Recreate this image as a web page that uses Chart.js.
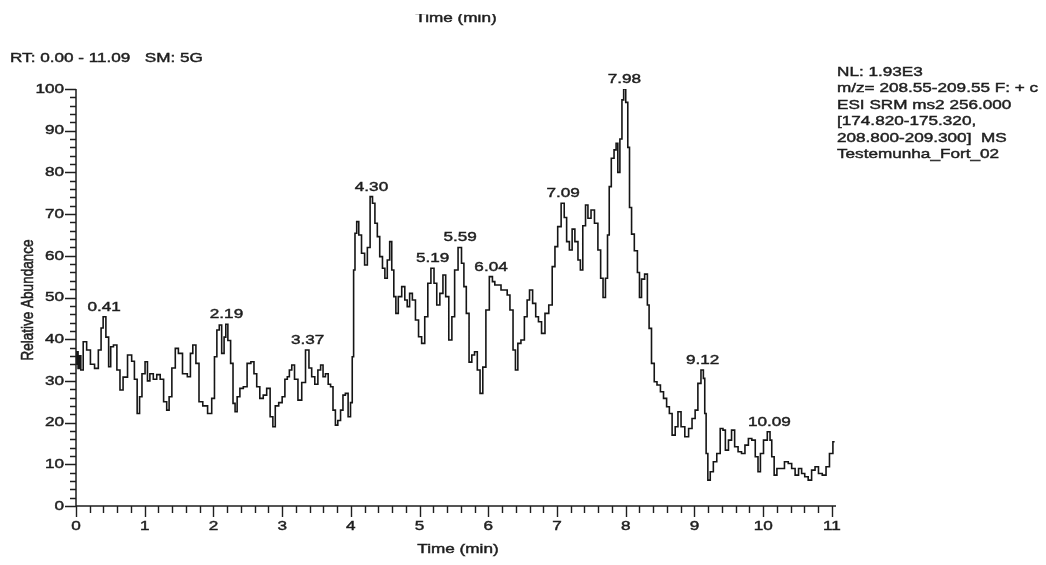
<!DOCTYPE html>
<html>
<head>
<meta charset="utf-8">
<title>Chromatogram</title>
<script src="https://cdn.jsdelivr.net/npm/chart.js@4/dist/chart.umd.min.js"></script>
<style>
  html, body { margin: 0; padding: 0; background: #ffffff; }
  canvas { display: block; }
</style>
</head>
<body>
<canvas id="chrom" width="1046" height="565"></canvas>
<script>
// Retention time (min) of each trace point
const retentionTime = [
  0.00,0.02,0.04,0.06,0.08,0.13,0.18,0.24,0.30,0.35,
  0.38,0.41,0.46,0.49,0.52,0.57,0.62,0.66,0.71,0.79,
  0.83,0.87,0.91,0.94,0.98,1.03,1.05,1.10,1.15,1.20,
  1.25,1.30,1.34,1.37,1.42,1.47,1.51,1.59,1.65,1.68,
  1.72,1.77,1.81,1.88,1.95,2.00,2.03,2.07,2.10,2.14,
  2.17,2.19,2.23,2.27,2.30,2.33,2.36,2.41,2.46,2.52,
  2.57,2.61,2.65,2.70,2.75,2.80,2.85,2.88,2.92,2.98,
  3.02,3.06,3.09,3.12,3.16,3.20,3.26,3.31,3.37,3.41,
  3.45,3.50,3.54,3.58,3.61,3.65,3.69,3.72,3.76,3.79,
  3.83,3.87,3.90,3.94,3.98,4.01,4.03,4.05,4.07,4.10,
  4.13,4.18,4.22,4.26,4.30,4.33,4.37,4.40,4.44,4.48,
  4.51,4.55,4.58,4.61,4.64,4.67,4.71,4.77,4.80,4.84,
  4.87,4.92,4.96,5.01,5.05,5.10,5.14,5.19,5.23,5.27,
  5.32,5.36,5.40,5.45,5.49,5.53,5.59,5.63,5.66,5.70,
  5.74,5.78,5.82,5.86,5.90,5.94,5.99,6.04,6.08,6.11,
  6.16,6.21,6.26,6.29,6.34,6.38,6.41,6.45,6.50,6.55,
  6.58,6.62,6.67,6.71,6.75,6.80,6.85,6.91,6.95,6.99,
  7.03,7.09,7.12,7.16,7.20,7.24,7.28,7.33,7.35,7.40,
  7.43,7.47,7.52,7.57,7.62,7.65,7.69,7.72,7.75,7.77,
  7.81,7.85,7.87,7.90,7.93,7.96,7.98,8.02,8.04,8.07,
  8.10,8.15,8.19,8.21,8.25,8.30,8.33,8.35,8.40,8.43,
  8.48,8.53,8.57,8.62,8.65,8.70,8.74,8.78,8.83,8.89,
  8.94,8.99,9.03,9.07,9.12,9.14,9.16,9.18,9.21,9.25,
  9.30,9.35,9.40,9.43,9.47,9.52,9.56,9.61,9.66,9.71,
  9.76,9.81,9.86,9.91,9.94,9.98,10.03,10.09,10.11,10.14,
  10.18,10.22,10.28,10.34,10.39,10.44,10.49,10.54,10.58,10.63,
  10.68,10.73,10.78,10.83,10.89,10.94,10.99,11.04
];

// Relative abundance (%) at each retention time
const relativeAbundance = [
  34,37,33,36,32.6,39.4,37.4,34,33,37.4,
  42.7,45.4,40.5,33.4,38.2,38.6,32.6,27.8,30.9,36.2,
  34.7,30.4,22.2,26.2,31.7,34.6,30,31.7,30.4,31.5,
  30.4,25,23,26.2,33.1,37.8,36.6,31.7,31,36.6,
  38.6,34.2,25,24,22.2,25.8,35.8,42.2,43.4,36.6,
  40.5,43.6,39.7,34.2,24.6,22.6,26.2,28.2,28.6,34.2,
  34.6,31.7,28.6,25.8,26.6,28.2,21.4,19,24,24.8,
  26.2,30.4,31,32.6,33.8,30.4,25.4,29.6,37.4,33.1,
  31,29.2,32.6,33.8,31,31.7,29.2,28.6,23,19.4,
  20.5,23,26.6,27,21.4,24.8,35.8,56.6,65.4,68.2,
  65,60.6,57.8,62,74.2,72.6,67.8,64.6,59.8,57,
  54.6,59,63.4,56.6,50.2,46.2,50.2,52.6,49.4,47.8,
  51,49.4,44.6,40.6,39,45.4,53.4,57,53.4,48.2,
  51,55.4,50.2,39.8,45.4,56.6,62,58.2,52.6,46.2,
  34.5,36.2,37,32.6,27,33.3,47,55,53.8,53,
  53,51.8,51.8,50.6,47,37.4,32.6,39,39.8,45.4,
  49.4,51.8,48.6,45.4,44.2,41.4,46.2,48.2,57.4,62.2,
  67,72.6,69.2,63.4,61.4,66.4,63.4,59,56.6,67.2,
  72.2,69,71,67.8,61.4,54.6,50,54.6,65,76.6,
  83.4,85.4,87,80,88,97.4,100,96.8,86,71.6,
  65.2,61.2,56,50,54.4,55.6,48.2,42.6,34.2,29.8,
  29,27.4,25.8,23.8,22.2,17,19,22.6,19,16.6,
  18.6,21,23,29.4,32.6,30.6,22.2,12.6,6.2,8.2,
  10.6,12.6,18.6,18.2,13.4,15.8,18.2,14.2,13,12.6,
  14.6,16.2,15.8,11.8,8.2,12.6,15.8,17.8,15.8,11.8,
  7.4,9,9,10.6,10.2,9,7.4,9,7.8,7,
  6.2,8.6,9.4,7.8,7.4,9.4,12.6,15.4
];

// Apex retention times that get a label
const peakTimes = [0.41, 2.19, 3.37, 4.30, 5.19, 5.59, 6.04, 7.09, 7.98, 9.12, 10.09];

// Axis ticks
const xMajorTicks = [0, 1, 2, 3, 4, 5, 6, 7, 8, 9, 10, 11];
const yMajorTicks = [0, 10, 20, 30, 40, 50, 60, 70, 80, 90, 100];
const xMinorStep = 0.2;
const yMinorStep = 2;
const timeRange = [0, 11.06];

// Header and scan information
const headerText = 'RT: 0.00 - 11.09   SM: 5G';
const infoLines = [
  'NL: 1.93E3',
  'm/z= 208.55-209.55 F: + c',
  'ESI SRM ms2 256.000',
  '[174.820-175.320,',
  '208.800-209.300]  MS',
  'Testemunha_Fort_02'
];
const xTitle = 'Time (min)';
const yTitle = 'Relative Abundance';

const FONT = '"Liberation Sans", Arial, Helvetica, sans-serif';
const FONT_SIZE = 13.5;
const STRETCH = 1.27;
const INK = '#1e1e1e';

// Horizontally widened text, slightly thickened with a thin outline
function wideText(ctx, text, x, y, align, baseline, rotate) {
  ctx.save();
  ctx.translate(x, y);
  ctx.scale(STRETCH, 1);
  if (rotate) ctx.rotate(-Math.PI / 2);
  ctx.font = FONT_SIZE + 'px ' + FONT;
  ctx.fillStyle = INK;
  ctx.strokeStyle = INK;
  ctx.lineWidth = 0.45;
  ctx.textAlign = align;
  ctx.textBaseline = baseline;
  ctx.fillText(text, 0, 0);
  ctx.strokeText(text, 0, 0);
  ctx.restore();
}

const chromAxes = {
  id: 'chromAxes',
  afterDraw(chart) {
    const ctx = chart.ctx;
    const xs = chart.scales.x;
    const ys = chart.scales.y;
    const { left, right, top, bottom } = chart.chartArea;

    ctx.save();
    ctx.strokeStyle = INK;
    ctx.lineWidth = 1.5;
    ctx.beginPath();
    ctx.moveTo(left, top);
    ctx.lineTo(left, bottom);
    ctx.lineTo(right, bottom);
    ctx.stroke();

    // x ticks (major + minor)
    const nx = Math.round((xMajorTicks[xMajorTicks.length - 1] - xMajorTicks[0]) / xMinorStep);
    ctx.lineWidth = 1.4;
    ctx.beginPath();
    for (let i = 0; i <= nx; i++) {
      const v = xMajorTicks[0] + i * xMinorStep;
      const major = Math.abs(v - Math.round(v)) < 1e-6;
      const px = Math.round(xs.getPixelForValue(v)) + 0.5;
      ctx.moveTo(px, bottom);
      ctx.lineTo(px, bottom + (major ? 11 : 7));
    }
    // y ticks (major + minor)
    const ny = Math.round((yMajorTicks[yMajorTicks.length - 1] - yMajorTicks[0]) / yMinorStep);
    for (let i = 0; i <= ny; i++) {
      const v = yMajorTicks[0] + i * yMinorStep;
      const major = v % 10 === 0;
      const py = Math.round(ys.getPixelForValue(v)) + 0.5;
      ctx.moveTo(left, py);
      ctx.lineTo(left - (major ? 11 : 6), py);
    }
    ctx.stroke();
    ctx.restore();

    xMajorTicks.forEach(v => {
      wideText(ctx, String(v), xs.getPixelForValue(v), bottom + 20, 'center', 'middle');
    });
    yMajorTicks.forEach(v => {
      wideText(ctx, String(v), left - 12, ys.getPixelForValue(v), 'right', 'middle');
    });

    // axis titles
    wideText(ctx, xTitle, 458, 549, 'center', 'middle');
    wideText(ctx, yTitle, 28, 300, 'center', 'middle', true);

    // peak labels
    peakTimes.forEach(t => {
      let best = 0;
      retentionTime.forEach((rt, i) => {
        if (Math.abs(rt - t) < Math.abs(retentionTime[best] - t)) best = i;
      });
      const px = xs.getPixelForValue(t);
      const py = ys.getPixelForValue(relativeAbundance[best]);
      wideText(ctx, t.toFixed(2), px, py - 6, 'center', 'alphabetic');
    });

    // header line and scan description
    wideText(ctx, headerText, 10, 58, 'left', 'middle');
    infoLines.forEach((line, i) => {
      wideText(ctx, line, 837, 72 + i * 16.5, 'left', 'middle');
    });

    // repeated axis title from the panel above, cut at the page edge
    ctx.save();
    ctx.beginPath();
    ctx.rect(0, 14, chart.width, 20);
    ctx.clip();
    wideText(ctx, xTitle, 456, 22, 'center', 'alphabetic');
    ctx.restore();
  }
};

new Chart(document.getElementById('chrom'), {
  type: 'line',
  data: {
    datasets: [{
      data: retentionTime.map((t, i) => ({ x: t, y: relativeAbundance[i] })),
      borderColor: '#151515',
      borderWidth: 1.6,
      pointRadius: 0,
      stepped: 'middle',
      fill: false
    }]
  },
  options: {
    responsive: false,
    devicePixelRatio: 1,
    animation: false,
    events: [],
    layout: { padding: { left: 76, top: 89, right: 210, bottom: 59 } },
    plugins: { legend: { display: false }, tooltip: { enabled: false } },
    scales: {
      x: { type: 'linear', min: timeRange[0], max: timeRange[1], display: false },
      y: { type: 'linear', min: 0, max: 100, display: false }
    }
  },
  plugins: [chromAxes]
});
</script>
</body>
</html>
